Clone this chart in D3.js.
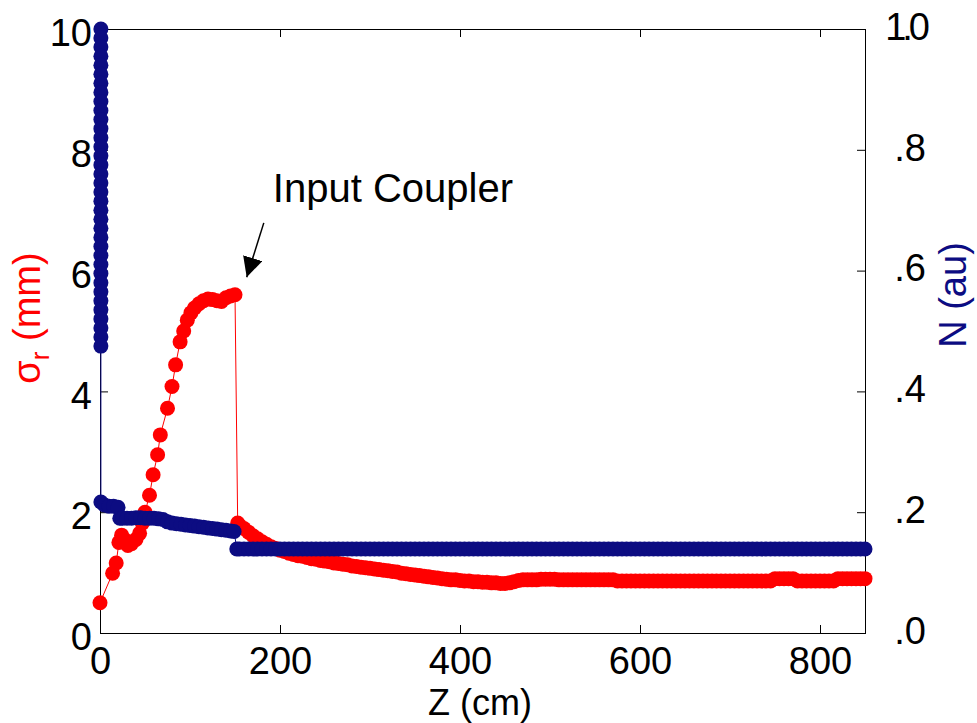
<!DOCTYPE html>
<html>
<head>
<meta charset="utf-8">
<script src="https://cdn.jsdelivr.net/npm/d3@7"></script>
<style>
  html, body { margin: 0; padding: 0; background: #fff; }
  svg { display: block; }
</style>
</head>
<body>
<main></main>
<script>
// sigma_r (mm) vs Z (cm) - red, left axis
let riseZ     = [0, 14, 18, 21, 24, 27, 31, 35, 40, 44, 47, 50, 55, 59, 64, 67, 75, 80, 84, 89,
                 93, 97, 101, 105, 110, 115, 120, 125, 130, 135, 140, 145, 150, 153]
let riseSigma = [0.50, 0.99, 1.16, 1.50, 1.62, 1.55, 1.45, 1.48, 1.55, 1.65, 1.82, 2.00, 2.28, 2.62, 2.95, 3.28, 3.72, 4.08, 4.44, 4.82,
                 5.00, 5.18, 5.30, 5.38, 5.45, 5.50, 5.53, 5.52, 5.50, 5.49, 5.55, 5.58, 5.60, 1.82]

// shared Z samples for the long flat part of both curves
let tailZ = [155, 160, 165, 170, 175, 180, 185, 190, 195, 200, 205, 210, 215, 220, 225, 230, 235, 240, 245, 250,
             255, 260, 265, 270, 275, 280, 285, 290, 295, 300, 305, 310, 315, 320, 325, 330, 335, 340, 345, 350,
             355, 360, 365, 370, 375, 380, 385, 390, 395, 400, 405, 410, 415, 420, 425, 430, 435, 440, 445, 450,
             455, 460, 465, 470, 475, 480, 485, 490, 495, 500, 505, 510, 515, 520, 525, 530, 535, 540, 545, 550,
             555, 560, 565, 570, 575, 580, 585, 590, 595, 600, 605, 610, 615, 620, 625, 630, 635, 640, 645, 650,
             655, 660, 665, 670, 675, 680, 685, 690, 695, 700, 705, 710, 715, 720, 725, 730, 735, 740, 745, 750,
             755, 760, 765, 770, 775, 780, 785, 790, 795, 800, 805, 810, 815, 820, 825, 830, 835, 840, 845, 850]

let tailSigma = [1.78, 1.73, 1.67, 1.61, 1.56, 1.51, 1.47, 1.43, 1.40, 1.37, 1.35, 1.32, 1.30, 1.28, 1.27, 1.25, 1.23, 1.22, 1.20, 1.19,
                 1.18, 1.16, 1.15, 1.14, 1.13, 1.11, 1.10, 1.09, 1.08, 1.07, 1.06, 1.05, 1.04, 1.03, 1.02, 1.01, 0.99, 0.98, 0.97, 0.96,
                 0.95, 0.94, 0.93, 0.92, 0.91, 0.90, 0.89, 0.88, 0.88, 0.87, 0.86, 0.86, 0.85, 0.85, 0.84, 0.84, 0.83, 0.83, 0.82, 0.82,
                 0.83, 0.85, 0.87, 0.88, 0.88, 0.88, 0.88, 0.89, 0.89, 0.89, 0.89, 0.88, 0.88, 0.88, 0.88, 0.88, 0.88, 0.88, 0.88, 0.88,
                 0.88, 0.88, 0.88, 0.88, 0.86, 0.86, 0.86, 0.86, 0.86, 0.86, 0.86, 0.86, 0.86, 0.86, 0.86, 0.86, 0.86, 0.86, 0.86, 0.86,
                 0.86, 0.86, 0.86, 0.86, 0.86, 0.86, 0.86, 0.86, 0.86, 0.86, 0.86, 0.86, 0.86, 0.86, 0.86, 0.86, 0.86, 0.86, 0.86, 0.90,
                 0.90, 0.90, 0.90, 0.90, 0.86, 0.86, 0.86, 0.86, 0.86, 0.86, 0.86, 0.86, 0.86, 0.90, 0.90, 0.90, 0.90, 0.90, 0.90, 0.90]

// N (au) vs Z (cm) - navy, right axis
let headZ = [1, 1, 1, 1, 1, 1, 1, 1, 1, 1, 1, 1, 1, 1, 1, 1, 1, 1, 1, 1,
             1, 1, 1, 1, 1, 1, 1, 1, 1, 1, 1, 1, 1, 1, 1, 1,
             1, 5, 10, 15, 20, 22, 25, 30, 35, 40, 45, 50, 55, 60, 65, 70,
             75, 80, 85, 90, 95, 100, 105, 110, 115, 120, 125, 130, 135, 140, 145, 149, 152]
let headN = [1.000, 0.985, 0.970, 0.955, 0.940, 0.925, 0.910, 0.895, 0.880, 0.865, 0.850, 0.835, 0.820, 0.805, 0.790, 0.775, 0.760, 0.745, 0.730, 0.715,
             0.700, 0.685, 0.670, 0.655, 0.640, 0.625, 0.610, 0.595, 0.580, 0.565, 0.550, 0.535, 0.520, 0.505, 0.490, 0.475,
             0.217, 0.212, 0.210, 0.210, 0.208, 0.190, 0.190, 0.190, 0.190, 0.191, 0.191, 0.190, 0.190, 0.190, 0.189, 0.188,
             0.184, 0.182, 0.181, 0.180, 0.179, 0.178, 0.177, 0.176, 0.175, 0.174, 0.173, 0.172, 0.171, 0.170, 0.169, 0.168, 0.139]
let tailN = [0.139, 0.139, 0.139, 0.139, 0.139, 0.139, 0.139, 0.139, 0.139, 0.139, 0.139, 0.139, 0.139, 0.139, 0.139, 0.139, 0.139, 0.139, 0.139, 0.139,
             0.139, 0.139, 0.139, 0.139, 0.139, 0.139, 0.139, 0.139, 0.139, 0.139, 0.139, 0.139, 0.139, 0.139, 0.139, 0.139, 0.139, 0.139, 0.139, 0.139,
             0.139, 0.139, 0.139, 0.139, 0.139, 0.139, 0.139, 0.139, 0.139, 0.139, 0.139, 0.139, 0.139, 0.139, 0.139, 0.139, 0.139, 0.139, 0.139, 0.139,
             0.139, 0.139, 0.139, 0.139, 0.139, 0.139, 0.139, 0.139, 0.139, 0.139, 0.139, 0.139, 0.139, 0.139, 0.139, 0.139, 0.139, 0.139, 0.139, 0.139,
             0.139, 0.139, 0.139, 0.139, 0.139, 0.139, 0.139, 0.139, 0.139, 0.139, 0.139, 0.139, 0.139, 0.139, 0.139, 0.139, 0.139, 0.139, 0.139, 0.139,
             0.139, 0.139, 0.139, 0.139, 0.139, 0.139, 0.139, 0.139, 0.139, 0.139, 0.139, 0.139, 0.139, 0.139, 0.139, 0.139, 0.139, 0.139, 0.139, 0.139,
             0.139, 0.139, 0.139, 0.139, 0.139, 0.139, 0.139, 0.139, 0.139, 0.139, 0.139, 0.139, 0.139, 0.139, 0.139, 0.139, 0.139, 0.139, 0.139, 0.139]

let zTicks = [0, 200, 400, 600, 800]
let sigmaTicks = [0, 2, 4, 6, 8, 10]
let nTicks = [0, 0.2, 0.4, 0.6, 0.8, 1.0]
let nTickLabels = ['.0', '.2', '.4', '.6', '.8', '1.0']

// annotation anchor (data units: Z, sigma)
let noteText = 'Input Coupler'
let notePos = [192, 7.14]
let arrowFrom = [182, 6.79]
let arrowTo = [163, 5.89]

let sigmaData = riseZ.concat(tailZ).map((z, i) => ({ z: z, v: riseSigma.concat(tailSigma)[i] }))
let nData = headZ.concat(tailZ).map((z, i) => ({ z: z, v: headN.concat(tailN)[i] }))

const red = '#ff0000'
const navy = '#0c0c82'
const font = '"Liberation Sans", Arial, Helvetica, sans-serif'

let plotLeft = 100, plotRight = 865, plotTop = 29, plotBottom = 633

let svg = d3.select('main')
    .append('svg')
    .attr('width', 977)
    .attr('height', 723)
    .style('background', '#fff')
    .style('font-family', font)

let x = d3.scaleLinear().domain([0, 850]).range([plotLeft, plotRight])
let ySigma = d3.scaleLinear().domain([0, 10]).range([plotBottom, plotTop])
let yN = d3.scaleLinear().domain([0, 1]).range([plotBottom, plotTop])

// frame
svg.append('rect')
    .attr('x', plotLeft + 0.5)
    .attr('y', plotTop + 0.5)
    .attr('width', plotRight - plotLeft)
    .attr('height', plotBottom - plotTop)
    .style('fill', 'none')
    .style('stroke', 'black')
    .style('stroke-width', '1px')

// bottom axis
let gx = svg.append('g')
    .attr('transform', `translate(0,${plotBottom})`)
    .call(d3.axisBottom(x).tickValues(zTicks).tickSizeInner(-8).tickSizeOuter(0).tickPadding(14))
gx.select('.domain').remove()

// top axis, ticks only
let gxTop = svg.append('g')
    .attr('transform', `translate(0,${plotTop})`)
    .call(d3.axisTop(x).tickValues(zTicks).tickSizeInner(-8).tickSizeOuter(0).tickFormat(''))
gxTop.select('.domain').remove()

// left axis
let gyL = svg.append('g')
    .attr('transform', `translate(${plotLeft},0)`)
    .call(d3.axisLeft(ySigma).tickValues(sigmaTicks).tickSizeInner(-8).tickSizeOuter(0).tickPadding(8))
gyL.select('.domain').remove()
gyL.selectAll('text').attr('dy', '0.44em')

// right axis
let gyR = svg.append('g')
    .attr('transform', `translate(${plotRight},0)`)
    .call(d3.axisRight(yN).tickValues(nTicks).tickSizeInner(-8).tickSizeOuter(0)
        .tickFormat((d, i) => nTickLabels[i]))
gyR.select('.domain').remove()
gyR.selectAll('text')
    .attr('text-anchor', 'end')
    .attr('x', 61)
    .attr('dy', '0.27em')
    .style('letter-spacing', d => d === 1 ? '-4px' : null)

svg.selectAll('.tick line').style('stroke', 'black')
svg.selectAll('.tick text')
    .style('font-family', font)
    .style('font-size', '38px')
    .style('fill', 'black')

// sigma series: thin line + markers
let sigmaLine = d3.line().x(d => x(d.z)).y(d => ySigma(d.v))
svg.append('path')
    .datum(sigmaData)
    .attr('d', sigmaLine)
    .style('fill', 'none')
    .style('stroke', red)
    .style('stroke-width', '1px')
svg.append('g')
    .selectAll('circle')
    .data(sigmaData)
    .join('circle')
    .attr('cx', d => x(d.z))
    .attr('cy', d => ySigma(d.v))
    .attr('r', 7.5)
    .style('fill', red)

// N series: thin line + markers
let nLine = d3.line().x(d => x(d.z)).y(d => yN(d.v))
svg.append('path')
    .datum(nData)
    .attr('d', nLine)
    .style('fill', 'none')
    .style('stroke', navy)
    .style('stroke-width', '1px')
svg.append('g')
    .selectAll('circle')
    .data(nData)
    .join('circle')
    .attr('cx', d => x(d.z))
    .attr('cy', d => yN(d.v))
    .attr('r', 7.5)
    .style('fill', navy)

// annotation
svg.append('text')
    .attr('x', x(notePos[0]))
    .attr('y', ySigma(notePos[1]))
    .style('font-size', '40px')
    .style('fill', 'black')
    .text(noteText)

svg.append('defs').append('marker')
    .attr('id', 'head')
    .attr('viewBox', '0 0 10 10')
    .attr('refX', 10)
    .attr('refY', 5)
    .attr('markerWidth', 20)
    .attr('markerHeight', 20)
    .attr('markerUnits', 'userSpaceOnUse')
    .attr('orient', 'auto')
    .append('path')
    .attr('d', 'M0,0 L10,5 L0,10 Z')
    .style('fill', 'black')

svg.append('line')
    .attr('x1', x(arrowFrom[0]))
    .attr('y1', ySigma(arrowFrom[1]))
    .attr('x2', x(arrowTo[0]))
    .attr('y2', ySigma(arrowTo[1]))
    .style('stroke', 'black')
    .style('stroke-width', '1.5px')
    .attr('marker-end', 'url(#head)')

// axis titles
svg.append('text')
    .attr('x', 480)
    .attr('y', 715)
    .attr('text-anchor', 'middle')
    .style('font-size', '36px')
    .style('fill', 'black')
    .text('Z (cm)')

let leftTitle = svg.append('text')
    .attr('transform', 'translate(40,318) rotate(-90)')
    .attr('text-anchor', 'middle')
    .style('font-size', '38px')
    .style('fill', red)
leftTitle.append('tspan').text('σ')
leftTitle.append('tspan').attr('dy', 9).style('font-size', '26px').text('r')
leftTitle.append('tspan').attr('dy', -9).text(' (mm)')

svg.append('text')
    .attr('transform', 'translate(966,295) rotate(-90)')
    .attr('text-anchor', 'middle')
    .style('font-size', '38px')
    .style('fill', navy)
    .text('N (au)')
</script>
</body>
</html>
